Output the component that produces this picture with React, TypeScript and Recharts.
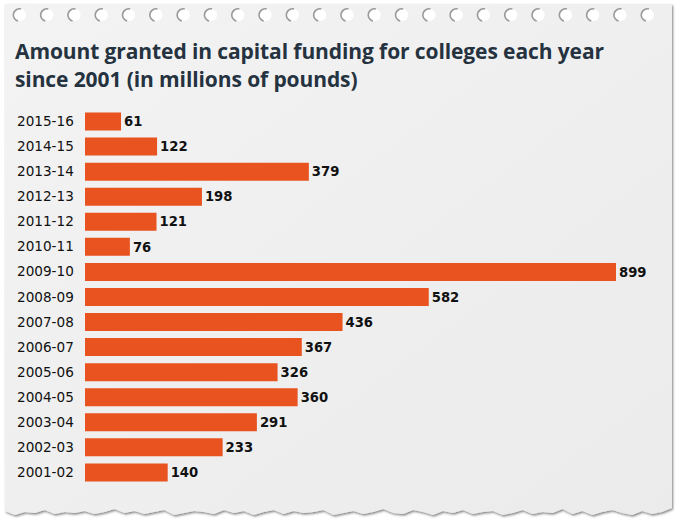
import React from "react";
import { BarChart, Bar, XAxis, YAxis, LabelList } from "recharts";

const years = ["2015-16","2014-15","2013-14","2012-13","2011-12","2010-11","2009-10","2008-09","2007-08","2006-07","2005-06","2004-05","2003-04","2002-03","2001-02"];
const amounts = [61,122,379,198,121,76,899,582,436,367,326,360,291,233,140];
const titleLines = ["Amount granted in capital funding for colleges each year", "since 2001 (in millions of pounds)"];

const data = years.map((y, i) => ({ year: y, value: amounts[i] }));

const holes = Array.from({ length: 24 }, (_, i) => 20 + i * 27.3);

function tornPath() {
  const jag = [0,2,-1,3,1,-2,0,3,-1,2,-3,1,0,2,-2,1,3,-1,0,2,-2,1,-1,3,0,-2,2,1,-3,0,2,-1,1,3,-2,0,1,-1,2,-2,0,3,-1,1,-2,2,0,-1,1,3,-2,0,2,-1,1,-3,0,2,-1,1,0,2,-2,1,0,3,-1];
  let d = "M5,4 L672,4 L672,508 ";
  const n = jag.length;
  for (let i = 0; i < n; i++) {
    const x = 672 - (i + 1) * (667 / n);
    d += `L${x.toFixed(1)},${(512 + jag[i]).toFixed(1)} `;
  }
  d += "Z";
  return d;
}

const YTick = (props: any) => {
  const { y, payload } = props;
  return (
    <text x={17} y={y} dy={5} textAnchor="start" fontFamily="DejaVu Sans" fontSize={13.6} fill="#111">
      {payload.value}
    </text>
  );
};

export default function App() {
  return (
    <div style={{ position: "absolute", left: 0, top: 0, width: 684, height: 530, background: "#fff", overflow: "hidden" }}>
      <svg width={684} height={530} style={{ position: "absolute", left: 0, top: 0 }}>
        <defs>
          <linearGradient id="pg" x1="0" y1="0" x2="1" y2="1">
            <stop offset="0" stopColor="#f3f3f3" />
            <stop offset="1" stopColor="#ebebeb" />
          </linearGradient>
          <filter id="sh" x="-5%" y="-5%" width="110%" height="110%">
            <feDropShadow dx="1" dy="1.5" stdDeviation="1.2" floodColor="#000" floodOpacity="0.5" />
          </filter>
        </defs>
        <path d={tornPath()} fill="url(#pg)" filter="url(#sh)" />
        {holes.map((x, i) => (
          <g key={i}>
            <circle cx={x} cy={15} r={6} fill="#fff" />
            <path d={`M${x - 2},21 A6,6 0 0 1 ${x + 1},9`} stroke="#9a9a9a" strokeWidth={1.6} fill="none" />
          </g>
        ))}
      </svg>
      <div style={{ position: "absolute", left: 15, top: 37, fontFamily: "'Open Sans'", fontWeight: 700, fontSize: 21, lineHeight: "28px", color: "#25323f", whiteSpace: "nowrap", letterSpacing: -0.1 }}>
        <div>{titleLines[0]}</div>
        <div>{titleLines[1]}</div>
      </div>
      <div style={{ position: "absolute", left: 0, top: 0 }}>
        <BarChart
          width={684}
          height={530}
          data={data}
          layout="vertical"
          margin={{ top: 108.5, right: 68, bottom: 45.5, left: 0 }}
          barCategoryGap={7}
        >
          <XAxis type="number" domain={[0, 899]} hide />
          <YAxis type="category" dataKey="year" width={85} axisLine={false} tickLine={false} tick={<YTick />} interval={0} />
          <Bar dataKey="value" fill="#e8531f" barSize={18} isAnimationActive={false}>
            <LabelList dataKey="value" position="right" offset={3} fill="#111" fontFamily="DejaVu Sans" fontWeight={700} fontSize={13.2} />
          </Bar>
        </BarChart>
      </div>
    </div>
  );
}
